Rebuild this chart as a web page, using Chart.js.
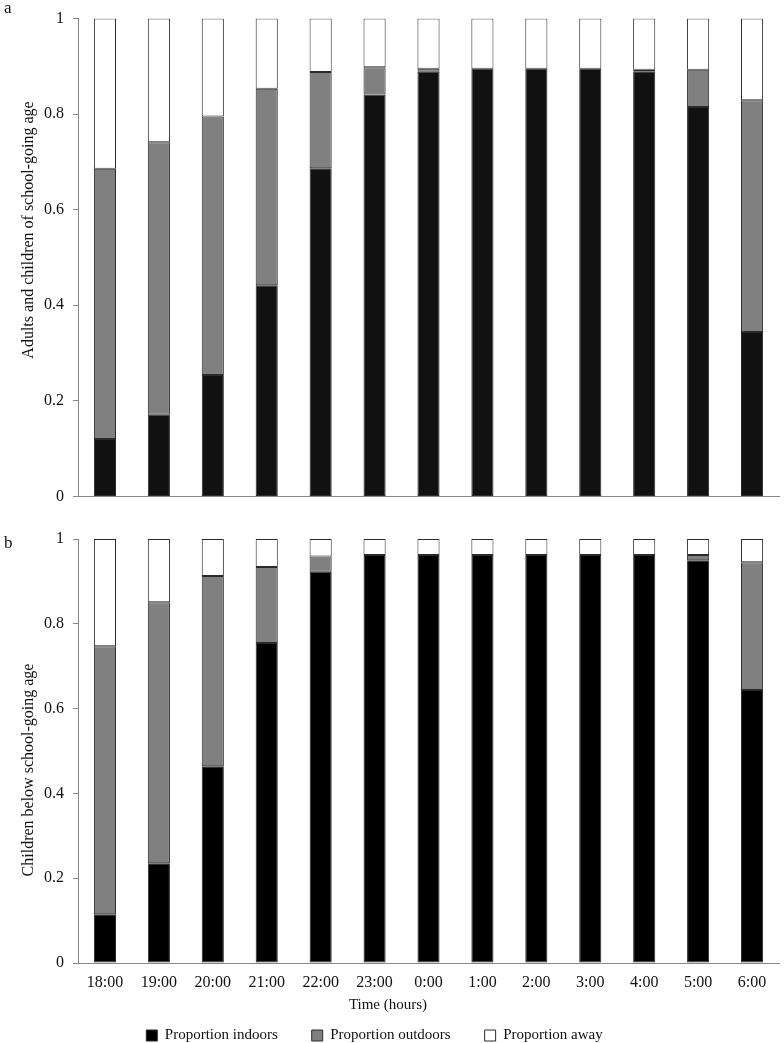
<!DOCTYPE html>
<html>
<head>
<meta charset="utf-8">
<script src="https://cdn.jsdelivr.net/npm/chart.js@4.4.0/dist/chart.umd.min.js"></script>
<style>
  html, body { margin: 0; padding: 0; background: #fff; overflow: hidden; }
  canvas { position: absolute; left: 0; }
  #chartA { top: 0; }
  #chartB { top: 515px; }
</style>
</head>
<body>
<canvas id="chartA" width="784" height="515"></canvas>
<canvas id="chartB" width="784" height="540"></canvas>
<script>
// hours of the night survey
const hours = ['18:00', '19:00', '20:00', '21:00', '22:00', '23:00', '0:00', '1:00', '2:00', '3:00', '4:00', '5:00', '6:00'];
const yTickLabels = ['0', '0.2', '0.4', '0.6', '0.8', '1'];
const seriesNames = ['Proportion indoors', 'Proportion outdoors', 'Proportion away'];

// panel a: adults and children of school-going age
const adultsIndoors  = [0.120, 0.171, 0.254, 0.442, 0.687, 0.841, 0.889, 0.895, 0.895, 0.895, 0.890, 0.815, 0.344];
const adultsOutdoors = [0.566, 0.570, 0.541, 0.411, 0.201, 0.057, 0.006, 0.000, 0.000, 0.000, 0.003, 0.078, 0.485];
const adultsAway     = [0.314, 0.259, 0.205, 0.147, 0.112, 0.102, 0.105, 0.105, 0.105, 0.105, 0.107, 0.107, 0.171];

// panel b: children below school-going age
const childIndoors  = [0.115, 0.235, 0.464, 0.755, 0.923, 0.962, 0.962, 0.962, 0.962, 0.962, 0.962, 0.950, 0.644];
const childOutdoors = [0.632, 0.616, 0.449, 0.179, 0.036, 0.000, 0.000, 0.000, 0.000, 0.000, 0.000, 0.012, 0.301];
const childAway     = [0.253, 0.149, 0.087, 0.066, 0.041, 0.038, 0.038, 0.038, 0.038, 0.038, 0.038, 0.038, 0.055];

Chart.defaults.font.family = "'Liberation Serif', 'Times New Roman', serif";
Chart.defaults.color = '#111';

function makeDatasets(indoors, outdoors, away, darkColor) {
    const common = { borderColor: '#2a2a2a', borderWidth: 1, borderSkipped: false, barPercentage: 0.41, categoryPercentage: 1.0 };
    return [
        Object.assign({ label: seriesNames[0], data: indoors, backgroundColor: darkColor }, common),
        Object.assign({ label: seriesNames[1], data: outdoors, backgroundColor: '#808080' }, common),
        Object.assign({ label: seriesNames[2], data: away, backgroundColor: '#ffffff' }, common)
    ];
}

// extra text (panel letters, axis titles) drawn on top
function textPlugin(items) {
    return {
        id: 'panelText',
        afterDraw(chart) {
            const ctx = chart.ctx;
            items.forEach(t => {
                ctx.save();
                ctx.font = t.font;
                ctx.fillStyle = '#111';
                ctx.textAlign = t.align || 'center';
                ctx.textBaseline = t.baseline || 'middle';
                ctx.translate(t.x, t.y);
                if (t.rotate) ctx.rotate(-Math.PI / 2);
                ctx.fillText(t.text, 0, 0);
                ctx.restore();
            });
        }
    };
}

function yScale() {
    return {
        stacked: true,
        min: 0,
        max: 1,
        ticks: {
            stepSize: 0.2,
            padding: 9,
            font: { size: 16 },
            callback: (value, index) => yTickLabels[index]
        },
        grid: { display: true, drawOnChartArea: false, drawTicks: true, tickLength: 5, color: '#888' },
        border: { display: true, color: '#888' },
        afterFit: scale => { scale.width = 78; }
    };
}

const chartA = new Chart(document.getElementById('chartA'), {
    type: 'bar',
    data: { labels: hours, datasets: makeDatasets(adultsIndoors, adultsOutdoors, adultsAway, '#111111') },
    options: {
        responsive: false,
        animation: false,
        layout: { padding: { top: 18, right: 5, left: 0, bottom: 0 } },
        plugins: { legend: { display: false }, tooltip: { enabled: false } },
        scales: {
            x: {
                stacked: true,
                ticks: { display: false },
                grid: { display: false },
                border: { display: true, color: '#888' },
                afterFit: scale => { scale.height = 13; }
            },
            y: yScale()
        }
    },
    plugins: [textPlugin([
        { text: 'a', x: 4, y: 13, align: 'left', baseline: 'alphabetic', font: "17px 'Liberation Serif'" },
        { text: 'Adults and children of school-going age', x: 29, y: 230, rotate: true, font: "16px 'Liberation Serif'" }
    ])]
});

// move the legend row to where the original sits
const legendNudge = {
    id: 'legendNudge',
    afterLayout(chart) {
        const lg = chart.legend;
        lg.left -= 15; lg.right -= 15;
        lg.top -= 2; lg.bottom -= 2;
    }
};

const chartB = new Chart(document.getElementById('chartB'), {
    type: 'bar',
    data: { labels: hours, datasets: makeDatasets(childIndoors, childOutdoors, childAway, '#000000') },
    options: {
        responsive: false,
        animation: false,
        layout: { padding: { top: 24, right: 5, left: 0, bottom: 0 } },
        plugins: {
            tooltip: { enabled: false },
            legend: {
                position: 'bottom',
                labels: { boxWidth: 11, boxHeight: 11, padding: 34, font: { size: 15 }, color: '#111' }
            }
        },
        scales: {
            x: {
                stacked: true,
                ticks: { padding: 10, font: { size: 16 }, maxRotation: 0, autoSkip: false },
                grid: { display: false, drawTicks: false },
                border: { display: true, color: '#888' },
                afterFit: scale => { scale.height = 33; }
            },
            y: yScale()
        }
    },
    plugins: [legendNudge, textPlugin([
        { text: 'b', x: 4, y: 33, align: 'left', baseline: 'alphabetic', font: "17px 'Liberation Serif'" },
        { text: 'Children below school-going age', x: 29, y: 255, rotate: true, font: "16px 'Liberation Serif'" },
        { text: 'Time (hours)', x: 388, y: 490, font: "15px 'Liberation Serif'" }
    ])]
});
</script>
</body>
</html>
